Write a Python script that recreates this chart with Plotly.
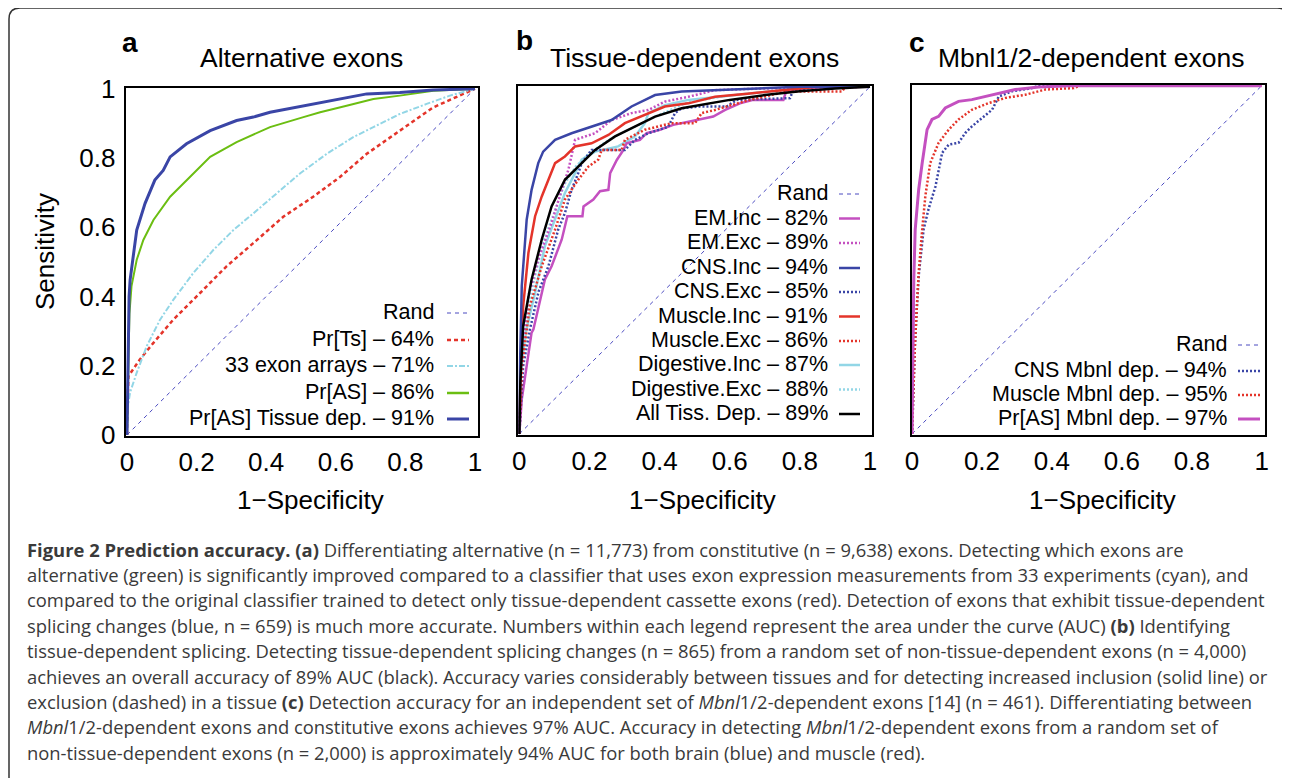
import plotly.graph_objects as go

# page body has an 8px margin; figure is sized to fit inside the window
OFF = 8
W, H = 1282, 770

# ---------------- data ----------------
tick_vals = [0, 0.2, 0.4, 0.6, 0.8, 1]
tick_text = ["0", "0.2", "0.4", "0.6", "0.8", "1"]

rand_x = [0, 1]
rand_y = [0, 1]

# Panel a: Alternative exons
a_ts_x = [0, 0.0, 0.004, 0.037, 0.076, 0.133, 0.21, 0.286, 0.363, 0.449, 0.535, 0.612, 0.689, 0.784, 0.88, 1.0]
a_ts_y = [0, 0.03, 0.17, 0.218, 0.266, 0.333, 0.41, 0.487, 0.554, 0.63, 0.688, 0.745, 0.812, 0.879, 0.946, 1.0]
a_arr_x = [0, 0.002, 0.009, 0.028, 0.057, 0.095, 0.133, 0.19, 0.248, 0.306, 0.363, 0.42, 0.497, 0.574, 0.65, 0.708, 0.784, 0.861, 0.928, 1.0]
a_arr_y = [0, 0.08, 0.123, 0.18, 0.257, 0.333, 0.39, 0.467, 0.534, 0.592, 0.64, 0.688, 0.755, 0.812, 0.86, 0.889, 0.927, 0.956, 0.98, 1.0]
a_as_x = [0, 0.003, 0.007, 0.013, 0.028, 0.047, 0.076, 0.124, 0.171, 0.239, 0.315, 0.411, 0.507, 0.555, 0.631, 0.708, 0.784, 0.88, 1.0]
a_as_y = [0, 0.2, 0.35, 0.43, 0.506, 0.563, 0.621, 0.688, 0.736, 0.803, 0.846, 0.889, 0.918, 0.932, 0.951, 0.97, 0.98, 0.994, 1.0]
a_tis_x = [0, 0.001, 0.003, 0.006, 0.009, 0.028, 0.052, 0.08, 0.104, 0.124, 0.171, 0.239, 0.315, 0.363, 0.411, 0.507, 0.612, 0.689, 0.784, 0.88, 1.0]
a_tis_y = [0, 0.1, 0.25, 0.4, 0.448, 0.592, 0.669, 0.736, 0.764, 0.803, 0.841, 0.879, 0.908, 0.918, 0.932, 0.951, 0.97, 0.985, 0.989, 0.996, 1.0]

# Panel b: Tissue-dependent exons
b_cns_inc_x = [0, 0.002, 0.007, 0.016, 0.021, 0.035, 0.054, 0.068, 0.102, 0.149, 0.206, 0.263, 0.32, 0.387, 0.463, 0.558, 0.7, 0.8, 1]
b_cns_inc_y = [0, 0.2, 0.426, 0.55, 0.617, 0.703, 0.78, 0.813, 0.847, 0.866, 0.885, 0.904, 0.943, 0.976, 0.986, 0.99, 0.997, 1.0, 1]
b_all_x = [0, 0.003, 0.011, 0.035, 0.064, 0.092, 0.13, 0.168, 0.216, 0.273, 0.33, 0.387, 0.463, 0.539, 0.6, 0.7, 0.8, 0.9, 1]
b_all_y = [0, 0.15, 0.311, 0.445, 0.56, 0.655, 0.732, 0.77, 0.818, 0.857, 0.885, 0.914, 0.938, 0.952, 0.962, 0.976, 0.987, 0.995, 1]
b_mus_inc_x = [0, 0.004, 0.011, 0.026, 0.045, 0.064, 0.083, 0.102, 0.13, 0.159, 0.206, 0.254, 0.301, 0.368, 0.415, 0.482, 0.558, 0.65, 0.75, 0.85, 1]
b_mus_inc_y = [0, 0.2, 0.368, 0.522, 0.627, 0.684, 0.732, 0.78, 0.799, 0.828, 0.837, 0.861, 0.895, 0.924, 0.943, 0.952, 0.971, 0.98, 0.99, 1.0, 1]
b_em_inc_x = [0, 0.007, 0.021, 0.035, 0.04, 0.054, 0.073, 0.092, 0.121, 0.137, 0.18, 0.183, 0.211, 0.23, 0.254, 0.259, 0.278, 0.297, 0.306, 0.344, 0.363, 0.401, 0.439, 0.506, 0.553, 0.587, 0.629, 0.667, 0.753, 0.762, 0.838, 1]
b_em_inc_y = [0, 0.1, 0.196, 0.292, 0.301, 0.359, 0.445, 0.483, 0.56, 0.627, 0.627, 0.655, 0.675, 0.699, 0.703, 0.751, 0.789, 0.818, 0.837, 0.847, 0.866, 0.876, 0.89, 0.904, 0.914, 0.933, 0.952, 0.962, 0.962, 0.99, 0.998, 1]
b_em_exc_x = [0, 0.005, 0.015, 0.026, 0.054, 0.092, 0.121, 0.14, 0.159, 0.216, 0.263, 0.32, 0.368, 0.415, 0.482, 0.539, 0.558, 0.7, 1]
b_em_exc_y = [0, 0.15, 0.3, 0.397, 0.502, 0.608, 0.703, 0.761, 0.847, 0.866, 0.904, 0.924, 0.933, 0.957, 0.971, 0.986, 0.99, 0.995, 1]
b_cns_exc_x = [0, 0.011, 0.03, 0.055, 0.083, 0.111, 0.13, 0.149, 0.168, 0.178, 0.206, 0.301, 0.33, 0.368, 0.425, 0.444, 0.463, 0.515, 0.591, 0.62, 0.772, 0.781, 0.85, 1]
b_cns_exc_y = [0, 0.196, 0.3, 0.41, 0.483, 0.589, 0.636, 0.703, 0.751, 0.78, 0.818, 0.818, 0.847, 0.866, 0.885, 0.924, 0.938, 0.943, 0.943, 0.962, 0.967, 0.99, 1.0, 1]
b_mus_exc_x = [0, 0.008, 0.03, 0.064, 0.102, 0.13, 0.168, 0.197, 0.225, 0.235, 0.292, 0.301, 0.358, 0.396, 0.434, 0.501, 0.52, 0.558, 0.65, 0.76, 0.92, 0.93, 1]
b_mus_exc_y = [0, 0.2, 0.368, 0.483, 0.589, 0.675, 0.732, 0.77, 0.79, 0.818, 0.818, 0.847, 0.876, 0.885, 0.895, 0.895, 0.924, 0.933, 0.96, 0.986, 0.986, 1.0, 1]
b_dig_inc_x = [0, 0.006, 0.02, 0.045, 0.073, 0.102, 0.13, 0.159, 0.178, 0.216, 0.282, 0.33, 0.358, 0.368, 0.415, 0.482, 0.6, 0.75, 0.85, 1]
b_dig_inc_y = [0, 0.2, 0.3, 0.407, 0.541, 0.617, 0.694, 0.751, 0.79, 0.813, 0.828, 0.857, 0.895, 0.924, 0.947, 0.962, 0.975, 0.99, 1.0, 1]
b_dig_exc_x = [0, 0.005, 0.018, 0.04, 0.07, 0.1, 0.13, 0.16, 0.2, 0.26, 0.32, 0.4, 0.48, 0.6, 0.75, 0.9, 1]
b_dig_exc_y = [0, 0.2, 0.32, 0.43, 0.56, 0.64, 0.72, 0.77, 0.81, 0.85, 0.88, 0.92, 0.955, 0.975, 0.99, 1.0, 1]

# Panel c: Mbnl1/2-dependent exons
c_pras_x = [0, 0.002, 0.005, 0.009, 0.019, 0.029, 0.043, 0.057, 0.076, 0.095, 0.133, 0.171, 0.229, 0.295, 0.362, 0.45, 1]
c_pras_y = [0, 0.2, 0.444, 0.587, 0.702, 0.778, 0.874, 0.903, 0.912, 0.936, 0.955, 0.96, 0.974, 0.989, 0.996, 1.0, 1]
c_mus_x = [0, 0.003, 0.008, 0.013, 0.019, 0.029, 0.038, 0.052, 0.076, 0.105, 0.133, 0.171, 0.219, 0.267, 0.324, 0.381, 0.462, 0.48, 1]
c_mus_y = [0, 0.1, 0.25, 0.35, 0.463, 0.587, 0.683, 0.778, 0.836, 0.874, 0.903, 0.931, 0.95, 0.965, 0.974, 0.989, 0.993, 1.0, 1]
c_cns_x = [0, 0.003, 0.008, 0.013, 0.019, 0.033, 0.047, 0.067, 0.086, 0.105, 0.133, 0.152, 0.171, 0.2, 0.229, 0.248, 0.286, 0.343, 0.362, 1]
c_cns_y = [0, 0.1, 0.25, 0.35, 0.454, 0.587, 0.645, 0.711, 0.807, 0.831, 0.836, 0.864, 0.883, 0.907, 0.931, 0.969, 0.984, 0.993, 1.0, 1]

titles = ["Alternative exons", "Tissue-dependent exons", "Mbnl1/2-dependent exons"]
panel_letters = ["a", "b", "c"]
legend_a = ["Rand", "Pr[Ts] \u2013 64%", "33 exon arrays \u2013 71%", "Pr[AS] \u2013 86%", "Pr[AS] Tissue dep. \u2013 91%"]
legend_b = ["Rand", "EM.Inc \u2013 82%", "EM.Exc \u2013 89%", "CNS.Inc \u2013 94%", "CNS.Exc \u2013 85%",
            "Muscle.Inc \u2013 91%", "Muscle.Exc \u2013 86%", "Digestive.Inc \u2013 87%", "Digestive.Exc \u2013 88%",
            "All Tiss. Dep. \u2013 89%"]
legend_c = ["Rand", "CNS Mbnl dep. \u2013 94%", "Muscle Mbnl dep. \u2013 95%", "Pr[AS] Mbnl dep. \u2013 97%"]

caption_lines = [
    "<b>Figure 2 Prediction accuracy.</b> <b>(a)</b> Differentiating alternative (n = 11,773) from constitutive (n = 9,638) exons. Detecting which exons are",
    "alternative (green) is significantly improved compared to a classifier that uses exon expression measurements from 33 experiments (cyan), and",
    "compared to the original classifier trained to detect only tissue-dependent cassette exons (red). Detection of exons that exhibit tissue-dependent",
    "splicing changes (blue, n = 659) is much more accurate. Numbers within each legend represent the area under the curve (AUC) <b>(b)</b> Identifying",
    "tissue-dependent splicing. Detecting tissue-dependent splicing changes (n = 865) from a random set of non-tissue-dependent exons (n = 4,000)",
    "achieves an overall accuracy of 89% AUC (black). Accuracy varies considerably between tissues and for detecting increased inclusion (solid line) or",
    "exclusion (dashed) in a tissue <b>(c)</b> Detection accuracy for an independent set of <i>Mbnl</i>1/2-dependent exons [14] (n = 461). Differentiating between",
    "<i>Mbnl</i>1/2-dependent exons and constitutive exons achieves 97% AUC. Accuracy in detecting <i>Mbnl</i>1/2-dependent exons from a random set of",
    "non-tissue-dependent exons (n = 2,000) is approximately 94% AUC for both brain (blue) and muscle (red).",
]

# ---------------- styles ----------------
BLUE = "#3A45A6"
GREEN = "#6BBE12"
CYAN = "#92D6E6"
RED = "#E4342A"
MAG = "#C450C0"
RAND = "#4A4AC0"
FONT = "Liberation Sans"

def px(x):
    return (x - OFF) / W

def py(y):
    return 1 - (y - OFF) / H

fig = go.Figure()

def add(x, y, color, width, dash, axis):
    fig.add_trace(go.Scatter(x=x, y=y, mode="lines", xaxis="x" + axis, yaxis="y" + axis,
                             line=dict(color=color, width=width, dash=dash),
                             showlegend=False, hoverinfo="skip"))

# panel a
add(rand_x, rand_y, RAND, 1, "4px,4px", "")
add(a_ts_x, a_ts_y, RED, 2.5, "4px,3px", "")
add(a_arr_x, a_arr_y, CYAN, 2, "6px,2px,2px,2px", "")
add(a_as_x, a_as_y, GREEN, 2, "solid", "")
add(a_tis_x, a_tis_y, BLUE, 3, "solid", "")

# panel b
add(rand_x, rand_y, RAND, 1, "4px,4px", "2")
add(b_dig_exc_x, b_dig_exc_y, CYAN, 2, "2px,2px", "2")
add(b_dig_inc_x, b_dig_inc_y, CYAN, 2.5, "solid", "2")
add(b_em_exc_x, b_em_exc_y, MAG, 2.5, "2px,2px", "2")
add(b_em_inc_x, b_em_inc_y, MAG, 2.5, "solid", "2")
add(b_cns_exc_x, b_cns_exc_y, BLUE, 2.5, "2px,2px", "2")
add(b_mus_exc_x, b_mus_exc_y, RED, 2.5, "2px,2px", "2")
add(b_mus_inc_x, b_mus_inc_y, RED, 2.5, "solid", "2")
add(b_cns_inc_x, b_cns_inc_y, BLUE, 2.5, "solid", "2")
add(b_all_x, b_all_y, "black", 2.5, "solid", "2")

# panel c
add(rand_x, rand_y, RAND, 1, "4px,4px", "3")
add(c_cns_x, c_cns_y, BLUE, 2.5, "2px,2px", "3")
add(c_mus_x, c_mus_y, RED, 2.5, "2px,2px", "3")
add(c_pras_x, c_pras_y, MAG, 3, "solid", "3")

# axes
panels = [
    ("", (125.7, 478), (88, 436), [-0.0037, 1.0086]),
    ("2", (518.3, 871.7), (86, 435), [-0.0029, 1.0048]),
    ("3", (911.7, 1265), (85, 435), [-0.001, 1.0094]),
]
for i, (ax, (x0, x1), (y0, y1), xr) in enumerate(panels):
    xa = dict(domain=[px(x0), px(x1)], range=xr, showline=True, mirror=True, linecolor="black",
              linewidth=2, showgrid=False, zeroline=False, tickmode="array", tickvals=tick_vals,
              ticktext=tick_text, ticks="", tickfont=dict(family=FONT, size=26, color="black"),
              ticklabelstandoff=2, anchor="y" + ax, automargin=False, fixedrange=True)
    ya = dict(domain=[py(y1), py(y0)], range=[-0.003, 1.002], showline=True, mirror=True,
              linecolor="black", linewidth=2, showgrid=False, zeroline=False, tickmode="array",
              tickvals=tick_vals, ticktext=tick_text, ticks="", showticklabels=(i == 0),
              tickfont=dict(family=FONT, size=26, color="black"), ticklabelstandoff=3,
              anchor="x" + ax, automargin=False, fixedrange=True)
    fig.layout["xaxis" + ax] = xa
    fig.layout["yaxis" + ax] = ya

ann = []
# titles and letters
title_pos = [(301, 58), (694, 58), (1091, 58)]
letter_pos = [(130, 43), (524, 40), (917, 43)]
for t, (tx, ty) in zip(titles, title_pos):
    ann.append(dict(text=t, x=px(tx), y=py(ty), xref="paper", yref="paper", showarrow=False,
                    xanchor="center", yanchor="middle", font=dict(family=FONT, size=26.5, color="black")))
for l, (lx, ly) in zip(panel_letters, letter_pos):
    ann.append(dict(text="<b>" + l + "</b>", x=px(lx), y=py(ly), xref="paper", yref="paper",
                    showarrow=False, xanchor="center", yanchor="middle",
                    font=dict(family=FONT, size=28, color="black")))
# axis titles
for cx in [310, 702, 1102]:
    ann.append(dict(text="1\u2212Specificity", x=px(cx), y=py(500), xref="paper", yref="paper",
                    showarrow=False, xanchor="center", yanchor="middle",
                    font=dict(family=FONT, size=26, color="black")))
ann.append(dict(text="Sensitivity", x=px(45), y=py(252), xref="paper", yref="paper", showarrow=False,
                textangle=-90, xanchor="center", yanchor="middle",
                font=dict(family=FONT, size=26, color="black")))

shapes = []
# legends
def legend(labels, styles, right_x, line_x0, line_x1, ys):
    for lab, (col, wd, ds), yy in zip(labels, styles, ys):
        ann.append(dict(text=lab, x=px(right_x), y=py(yy), xref="paper", yref="paper", showarrow=False,
                        xanchor="right", yanchor="middle", font=dict(family=FONT, size=21.5, color="black")))
        shapes.append(dict(type="line", xref="paper", yref="paper", x0=px(line_x0), x1=px(line_x1),
                           y0=py(yy + 1), y1=py(yy + 1), line=dict(color=col, width=wd, dash=ds)))

legend(legend_a,
       [(RAND, 1, "4px,4px"), (RED, 2.5, "4px,3px"), (CYAN, 2, "6px,2px,2px,2px"), (GREEN, 2.5, "solid"), (BLUE, 3, "solid")],
       436, 447, 469, [312, 339, 365, 392, 418])
legend(legend_b,
       [(RAND, 1, "4px,4px"), (MAG, 2.5, "solid"), (MAG, 2.5, "2px,2px"), (BLUE, 2.5, "solid"), (BLUE, 2.5, "2px,2px"),
        (RED, 2.5, "solid"), (RED, 2.5, "2px,2px"), (CYAN, 2.5, "solid"), (CYAN, 2.5, "2px,2px"), ("black", 2.5, "solid")],
       830, 839, 860, [193, 217.5, 242, 267, 291, 315.5, 340, 364, 388.5, 413])
legend(legend_c,
       [(RAND, 1, "4px,4px"), (BLUE, 2.5, "2px,2px"), (RED, 2.5, "2px,2px"), (MAG, 3, "solid")],
       1229, 1238, 1260, [344, 370, 394, 418])

# caption
cap_y0, cap_dy = 549, 25.4
for k, line in enumerate(caption_lines):
    ann.append(dict(text=line, x=px(25), y=py(cap_y0 + k * cap_dy), xref="paper", yref="paper",
                    showarrow=False, xanchor="left", yanchor="middle", align="left",
                    font=dict(family="Open Sans", size=18.4, color="#3a3a3a")))

# rounded figure border
r = 11
bx0, bx1, byt = 9, 1288, 8
path = (f"M {px(bx0)},{-0.05} L {px(bx0)},{py(byt + r)} Q {px(bx0)},{py(byt)} {px(bx0 + r)},{py(byt)} "
        f"L {px(bx1 - r)},{py(byt)} Q {px(bx1)},{py(byt)} {px(bx1)},{py(byt + r)} L {px(bx1)},{-0.05}")
shapes.append(dict(type="path", path=path, xref="paper", yref="paper", line=dict(color="#333333", width=1.5)))

fig.update_layout(width=W, height=H, margin=dict(l=0, r=0, t=0, b=0), template="none",
                  paper_bgcolor="white", plot_bgcolor="white", showlegend=False,
                  annotations=ann, shapes=shapes)

fig.write_html("out.html")
